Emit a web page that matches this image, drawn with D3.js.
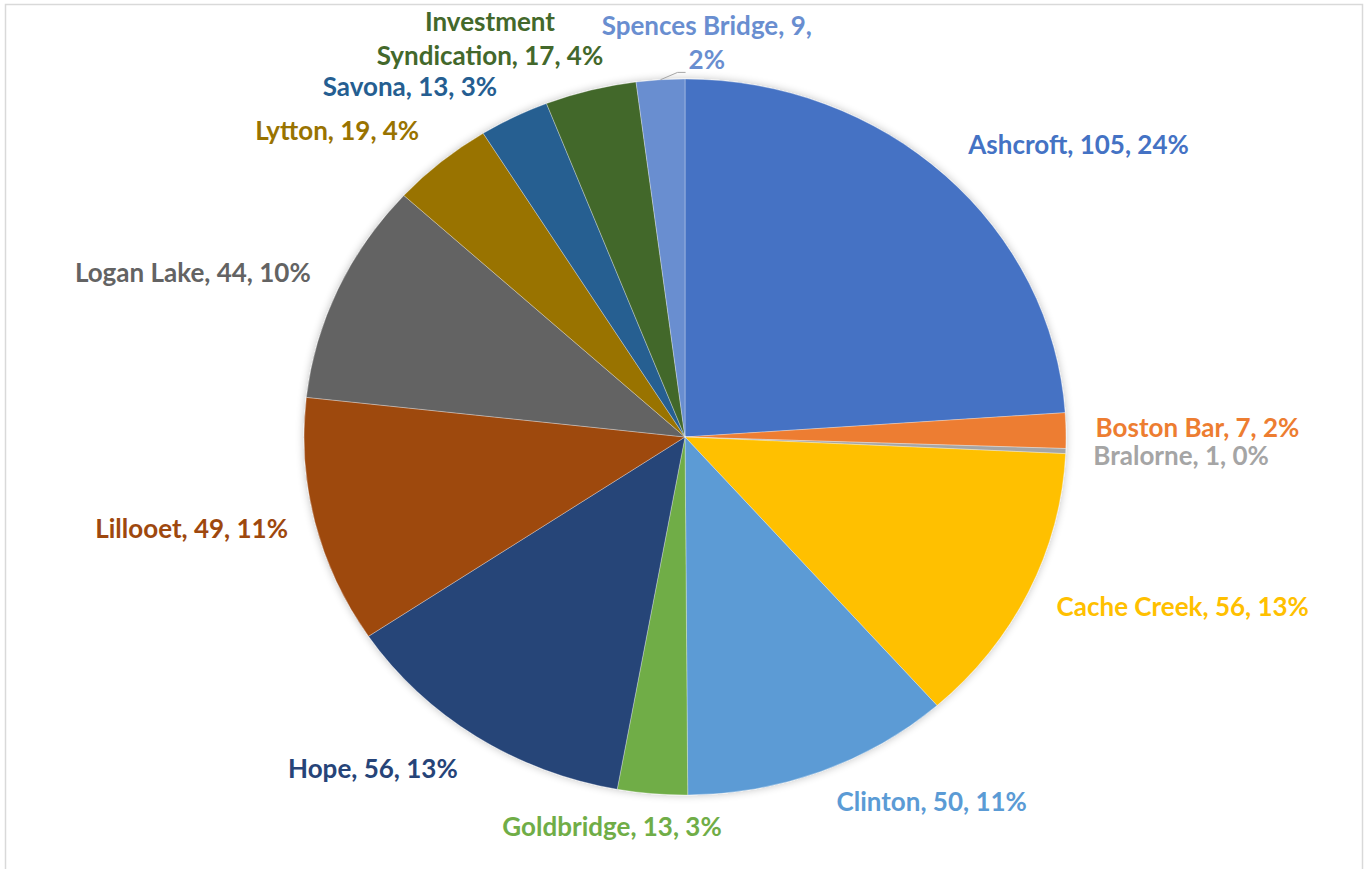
<!DOCTYPE html>
<html><head><meta charset="utf-8">
<script src="https://cdn.jsdelivr.net/npm/d3@7"></script>
<style>
html,body{margin:0;padding:0;background:#fff;}
svg{display:block;}
</style></head>
<body>
<svg id="chart" width="1364" height="869"></svg>
<script>
const categories = ["Ashcroft","Boston Bar","Bralorne","Cache Creek","Clinton","Goldbridge","Hope","Lillooet","Logan Lake","Lytton","Savona","Investment Syndication","Spences Bridge"];
const values = [105,7,1,56,50,13,56,49,44,19,13,17,9];
const colors = ["#4472C4","#ED7D31","#A5A5A5","#FFC000","#5B9BD5","#70AD47","#264478","#9E480E","#636363","#997300","#255E91","#43682B","#698ED0"];

const W = 1364, H = 869;
const cx = 685, cy = 437, rx = 381, ry = 358;
const svg = d3.select("#chart");

svg.append("rect").attr("x",5.5).attr("y",4.5).attr("width",W-7).attr("height",H+10)
  .attr("fill","#fff").attr("stroke","#d9d9d9").attr("stroke-width",1.5);

const defs = svg.append("defs");
const f = defs.append("filter").attr("id","shadow").attr("x","-10%").attr("y","-10%").attr("width","120%").attr("height","120%");
f.append("feGaussianBlur").attr("in","SourceAlpha").attr("stdDeviation",4);
f.append("feComponentTransfer").append("feFuncA").attr("type","linear").attr("slope",0.25);
const m = f.append("feMerge"); m.append("feMergeNode"); m.append("feMergeNode").attr("in","SourceGraphic");

const data = categories.map((c,i)=>({name:c, value:values[i], color:colors[i]}));
const total = d3.sum(values);
const pie = d3.pie().value(d=>d.value).sort(null);
const arcs = pie(data);
const arc = d3.arc().innerRadius(0).outerRadius(ry);

const g = svg.append("g").attr("transform",`translate(${cx},${cy}) scale(${rx/ry},1)`).attr("filter","url(#shadow)");
g.selectAll("path").data(arcs).join("path")
  .attr("d",arc).attr("fill",d=>d.data.color)
  .attr("stroke","#fff").attr("stroke-width",0.6).attr("stroke-opacity",0.5);

// label layout (offsets from the outside-end anchor, and wrap widths)
const nudge = {
  "Ashcroft":[5,-10],"Boston Bar":[3,0],"Bralorne":[1,6],"Cache Creek":[4,6],"Clinton":[6,9],
  "Goldbridge":[-38,10],"Hope":[-4,14],"Lillooet":[-1,3],"Logan Lake":[-3,-4],"Lytton":[-5,-10],
  "Savona":[-5,-6],"Investment Syndication":[-94,-25],"Spences Bridge":[48,-10]
};
const wrapWidth = {"Investment Syndication":250,"Spences Bridge":250};
const fontSize = 26, lineH = 34;
const fmt = d => `${d.data.name}, ${d.data.value}, ${Math.round(d.data.value/total*100)}%`;
const lbl = svg.append("g").attr("font-family","Lato, 'Open Sans', sans-serif").attr("font-weight","bold").attr("font-size",fontSize);

arcs.forEach(d=>{
  const a = (d.startAngle+d.endAngle)/2;
  const k = 1.07;
  const nd = nudge[d.data.name] || [0,0];
  const x = cx + rx*k*Math.sin(a) + nd[0], y = cy - ry*k*Math.cos(a) + nd[1];
  const maxW = wrapWidth[d.data.name];
  const t = lbl.append("text").attr("fill",d.data.color).attr("dominant-baseline","middle");
  let lines = [fmt(d)];
  if (maxW) {
    const words = fmt(d).split(" ");
    lines = []; let cur = "";
    const probe = t.append("tspan");
    words.forEach(w=>{
      const test = cur ? cur + " " + w : w;
      probe.text(test);
      if (probe.node().getComputedTextLength() > maxW && cur) { lines.push(cur); cur = w; }
      else cur = test;
    });
    lines.push(cur);
    probe.remove();
  }
  const anchor = lines.length > 1 ? "middle" : (Math.sin(a) > 0.15 ? "start" : (Math.sin(a) < -0.15 ? "end" : "middle"));
  t.attr("text-anchor",anchor);
  const y0 = y - (lines.length-1)*lineH/2;
  lines.forEach((ln,i)=>{
    t.append("tspan").attr("x",x).attr("y",y0+i*lineH).text(ln);
  });
  if (d.data.name === "Spences Bridge") {
    const last = t.selectAll("tspan").nodes().slice(-1)[0];
    const bb = last.getBBox();
    const px = cx + rx*Math.sin(a), py = cy - ry*Math.cos(a);
    const ex = bb.x - 3, ey = bb.y + bb.height - 2;
    svg.append("path").attr("d",`M${px},${py}L${ex-8},${ey}L${ex},${ey}`)
      .attr("fill","none").attr("stroke","#a6a6a6").attr("stroke-width",1);
  }
});
</script>
</body></html>
